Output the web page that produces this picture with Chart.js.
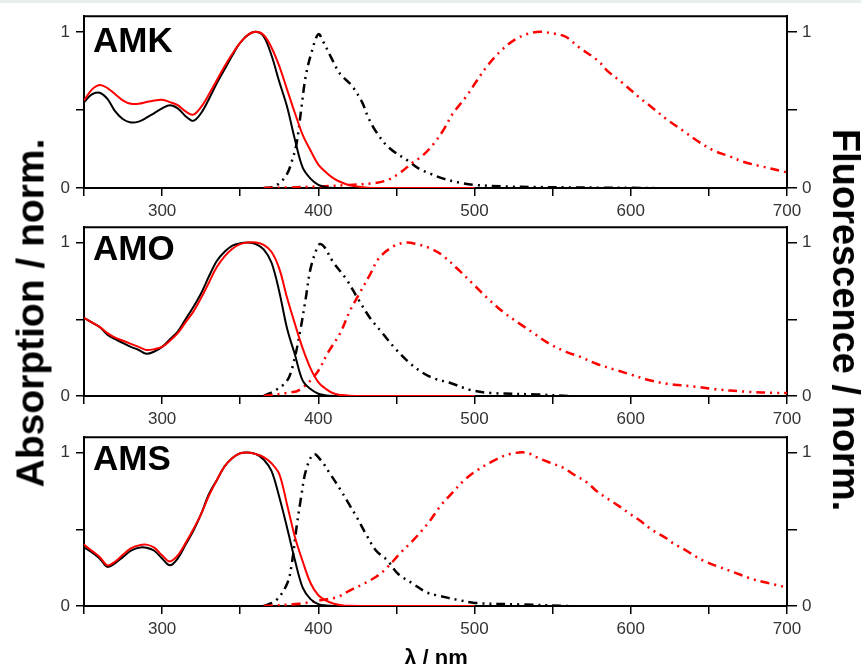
<!DOCTYPE html>
<html>
<head>
<meta charset="utf-8">
<script src="https://cdn.jsdelivr.net/npm/chart.js@4.4.1/dist/chart.umd.min.js"></script>
<style>
    html, body { margin: 0; padding: 0; }
    body {
        width: 861px; height: 664px; overflow: hidden; position: relative;
        background: #fff; font-family: 'Liberation Sans', Arial, sans-serif;
    }
    .topband { position: absolute; left: 0; top: 0; width: 861px; height: 3px; background: #e7eeed; }
    canvas { position: absolute; left: 0; }
    .panel-label { position: absolute; left: 93px; font-size: 35px; font-weight: bold; line-height: 1; color: #000; }
    .axis-title { position: absolute; font-weight: bold; line-height: 1; white-space: nowrap; color: #000; }
</style>
</head>
<body>
<div class="topband"></div>
<canvas id="amk" width="861" height="230" style="top:0px"></canvas>
<canvas id="amo" width="861" height="227" style="top:211px"></canvas>
<canvas id="ams" width="861" height="227" style="top:421px"></canvas>

<div class="panel-label" style="top:22px">AMK</div>
<div class="panel-label" style="top:230px">AMO</div>
<div class="panel-label" style="top:440px">AMS</div>

<div class="axis-title" style="left:30px; top:313px; font-size:39px; transform:translate(-50%,-50%) rotate(-90deg)">Absorption / norm.</div>
<div class="axis-title" style="left:846px; top:320px; font-size:38px; transform:translate(-50%,-50%) rotate(90deg)">Fluorescence / norm.</div>
<div class="axis-title" style="left:436px; top:647px; font-size:22px; transform:translateX(-50%)">λ / nm</div>

<script>
// wavelength grid for the absorption spectra (nm)
const absNm = [250, 255, 260, 265, 270, 275, 280, 285, 290, 295,
               300, 305, 310, 315, 320, 325, 330, 335, 340, 345,
               350, 355, 360, 365, 370, 375, 380, 385, 390, 395,
               400, 405, 410, 415, 420, 430, 440, 460, 480, 500];

// AMK
const amkAbsBlack = [.55, .60, .61, .57, .49, .44, .42, .425, .45, .48,
                     .51, .53, .51, .46, .43, .48, .57, .67, .76, .85,
                     .93, .98, 1.0, .97, .85, .68, .52, .31, .13, .06,
                     .02, .005, 0, 0, 0, 0, 0, 0, 0, 0];
const amkAbsRed = [.56, .63, .66, .64, .60, .56, .54, .54, .55, .56,
                   .565, .55, .53, .49, .47, .52, .60, .69, .78, .86,
                   .93, .98, 1.0, .98, .90, .78, .63, .48, .34, .24,
                   .15, .10, .06, .035, .018, .004, 0, 0, 0, 0];
const amkFlBlackNm = [365, 370, 375, 380, 383, 386, 389, 392, 396, 400, 403, 408, 414, 421, 428, 432, 437, 445, 458, 465, 472, 480, 490, 500, 520, 540, 560, 580, 600, 615];
const amkFlBlack = [0, .005, .03, .09, .17, .28, .50, .72, .88, .985, .94, .84, .73, .66, .55, .45, .36, .26, .17, .12, .09, .06, .035, .02, .01, .006, .004, .002, .001, 0];
const amkFlRedNm = [365, 380, 400, 420, 435, 444, 452, 460, 467, 474, 480, 486, 495, 501, 508, 518, 527, 535, 542, 550, 558, 567, 579, 585, 595, 606, 613, 623, 634, 642, 653, 663, 672, 683, 696, 700];
const amkFlRed = [0, .003, .01, .02, .03, .05, .095, .16, .21, .285, .37, .475, .59, .68, .78, .89, .957, .99, 1.0, .99, .97, .90, .815, .75, .67, .575, .52, .44, .363, .306, .24, .204, .168, .14, .11, .10];

// AMO
const amoAbsBlack = [.51, .48, .45, .40, .37, .345, .32, .30, .275, .29,
                     .32, .37, .42, .50, .58, .67, .78, .88, .94, .98,
                     .995, 1.0, .99, .955, .87, .68, .44, .27, .10, .045,
                     .015, .004, 0, 0, 0, 0, 0, 0, 0, 0];
const amoAbsRed = [.51, .48, .45, .41, .38, .36, .34, .32, .30, .305,
                   .32, .36, .41, .48, .55, .64, .74, .84, .91, .96,
                   .99, 1.0, 1.0, .985, .94, .83, .64, .47, .31, .18,
                   .09, .045, .016, .006, .002, 0, 0, 0, 0, 0];
const amoFlBlackNm = [365, 373, 380, 384, 388.5, 392, 395, 399, 401, 404, 409, 418, 425, 433, 441, 450, 459, 467, 474, 485, 497, 510, 540, 560];
const amoFlBlack = [0, .04, .10, .21, .43, .64, .83, .96, .99, .97, .88, .76, .64, .51, .41, .30, .21, .15, .115, .083, .04, .02, .01, 0];
const amoFlRedNm = [365, 380, 388, 399, 406, 414, 420, 427, 433, 439, 448, 456, 463, 471, 479, 491, 499, 508, 518, 529, 537, 548, 559, 568, 578, 591, 600, 612, 623, 642, 653, 674, 693, 700];
const amoFlRed = [0, .02, .04, .15, .28, .41, .55, .68, .79, .90, .975, 1.0, .99, .965, .92, .81, .73, .64, .55, .47, .415, .34, .286, .254, .21, .168, .14, .103, .08, .06, .045, .028, .02, .02];

// AMS
const amsAbsBlack = [.383, .35, .31, .255, .28, .32, .36, .38, .38, .36,
                     .31, .265, .31, .40, .49, .60, .73, .82, .91, .965,
                     .995, 1.0, .99, .955, .88, .71, .51, .30, .12, .045,
                     .012, .003, 0, 0, 0, 0, 0, 0, 0, 0];
const amsAbsRed = [.40, .36, .32, .265, .29, .335, .375, .395, .40, .38,
                   .33, .29, .33, .41, .50, .60, .72, .82, .91, .965,
                   .995, 1.0, .99, .97, .93, .86, .66, .45, .29, .15,
                   .07, .035, .015, .005, .001, 0, 0, 0, 0, 0];
const amsFlBlackNm = [365, 373, 380, 383, 386, 389, 392, 397, 402, 407, 414, 419, 424.5, 431, 437, 444, 451, 460.6, 469, 475.7, 490.7, 500, 530, 560];
const amsFlBlack = [0, .037, .145, .275, .51, .71, .88, .99, .945, .87, .76, .675, .58, .46, .36, .30, .21, .145, .09, .07, .037, .02, .01, 0];
const amsFlRedNm = [365, 388, 401, 412, 420, 429, 437, 444, 452, 460.6, 467, 471.5, 478, 486, 493, 501, 512, 522.6, 533, 539.6, 548, 557, 563, 572, 578, 585, 592, 599.5, 606, 613, 623, 627, 635.7, 642, 648.5, 657, 666, 677, 685, 692, 700];
const amsFlRed = [0, .015, .037, .058, .10, .145, .19, .25, .34, .427, .50, .556, .65, .74, .816, .88, .946, .99, 1.0, .97, .935, .90, .86, .805, .75, .70, .654, .60, .556, .50, .44, .41, .36, .32, .286, .253, .22, .178, .156, .14, .12];

const xTicks = [250, 300, 350, 400, 450, 500, 550, 600, 650, 700];
const yTicks = [0, 0.5, 1];

Chart.defaults.font.family = "'Liberation Sans', Arial, sans-serif";

function pts(xs, ys) {
    return xs.map((x, i) => ({ x: x, y: ys[i] }));
}

// frame line on top of the plot box
const boxPlugin = {
    id: 'box',
    beforeDatasetsDraw(chart) {
        const a = chart.chartArea, ctx = chart.ctx;
        ctx.save();
        ctx.strokeStyle = '#000';
        ctx.lineWidth = 2;
        ctx.beginPath();
        ctx.moveTo(a.left, a.top);
        ctx.lineTo(a.right, a.top);
        ctx.stroke();
        ctx.restore();
    }
};

function yAxis(pos, width, tickLen, pad) {
    return {
        type: 'linear', position: pos, min: 0, max: 1.1,
        afterBuildTicks: s => { s.ticks = yTicks.map(v => ({ value: v })); },
        afterFit: s => { s.width = width; },
        grid: { drawOnChartArea: false, drawTicks: true, tickLength: tickLen, color: '#000', lineWidth: 1.5 },
        border: { display: true, color: '#000', width: 2 },
        ticks: {
            autoSkip: false, padding: pad, color: '#333', font: { size: 17 },
            callback: v => (v === 0.5 ? '' : v)
        }
    };
}

function renderPanel(id, absBlack, absRed, flBlackNm, flBlack, flRedNm, flRed) {
    const ctx = document.getElementById(id).getContext('2d');
    const flDash = [9, 5, 2, 5, 2, 5];

    new Chart(ctx, {
        type: 'line',
        data: {
            datasets: [
                { data: pts(absNm, absRed), borderColor: '#ff0000', borderWidth: 2, order: 0 },
                { data: pts(absNm, absBlack), borderColor: '#000', borderWidth: 2, order: 1 },
                { data: pts(flRedNm, flRed), borderColor: '#ff0000', borderWidth: 2.5, borderDash: flDash, order: 2 },
                { data: pts(flBlackNm, flBlack), borderColor: '#000', borderWidth: 2.5, borderDash: flDash, order: 3 }
            ]
        },
        options: {
            responsive: false,
            animation: false,
            layout: { padding: { top: 15, left: 0, right: 0, bottom: 0 } },
            elements: {
                point: { radius: 0 },
                line: { tension: 0.35, fill: false }
            },
            plugins: { legend: { display: false }, tooltip: { enabled: false } },
            scales: {
                x: {
                    type: 'linear', position: 'bottom', min: 250, max: 700,
                    afterBuildTicks: s => { s.ticks = xTicks.map(v => ({ value: v })); },
                    afterFit: s => { s.height = 42; },
                    grid: { drawOnChartArea: false, drawTicks: true, tickLength: 8, color: '#000', lineWidth: 1.5 },
                    border: { display: true, color: '#000', width: 2 },
                    ticks: {
                        autoSkip: false, maxRotation: 0, padding: 5, color: '#333', font: { size: 17 },
                        callback: v => (v % 100 === 0 ? v : '')
                    }
                },
                y: yAxis('left', 84, 8, 6),
                y2: yAxis('right', 74, 10, 5)
            }
        },
        plugins: [boxPlugin]
    });
}

renderPanel('amk', amkAbsBlack, amkAbsRed, amkFlBlackNm, amkFlBlack, amkFlRedNm, amkFlRed);
renderPanel('amo', amoAbsBlack, amoAbsRed, amoFlBlackNm, amoFlBlack, amoFlRedNm, amoFlRed);
renderPanel('ams', amsAbsBlack, amsAbsRed, amsFlBlackNm, amsFlBlack, amsFlRedNm, amsFlRed);
</script>
</body>
</html>
